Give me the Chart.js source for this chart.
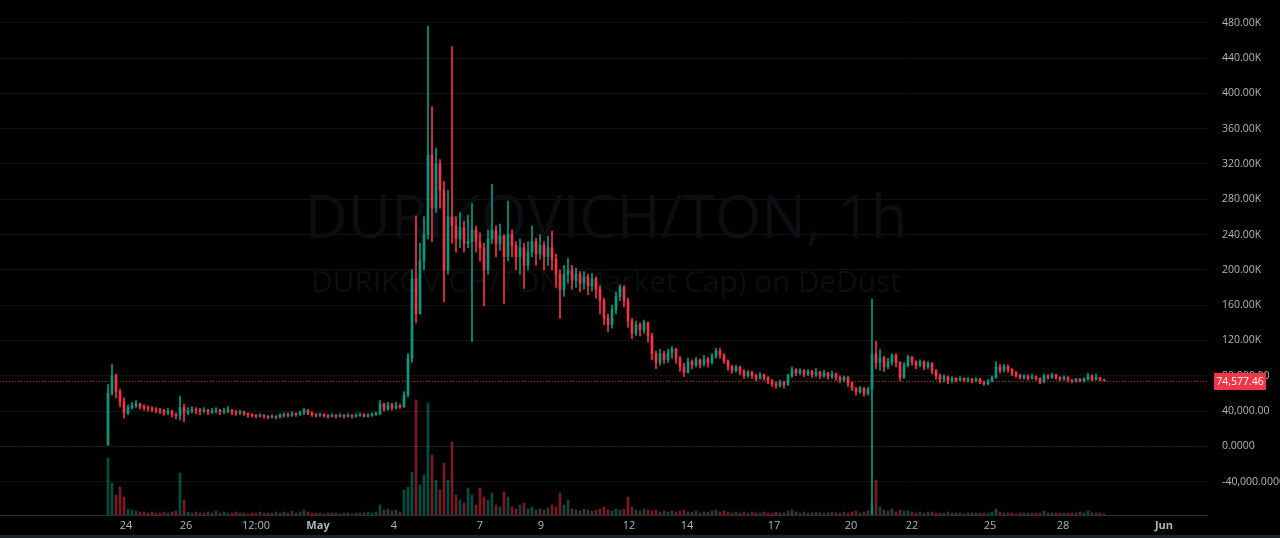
<!DOCTYPE html>
<html>
<head>
<meta charset="utf-8">
<script src="https://cdn.jsdelivr.net/npm/chart.js@4.4.1/dist/chart.umd.min.js"></script>
<style>
  html, body { margin: 0; padding: 0; background: #000; }
  canvas { display: block; }
</style>
</head>
<body>
<canvas id="chart" width="1280" height="538"></canvas>
<script>
// market cap in thousands, one candle per bar slot (TradingView axis is bar-indexed)
const firstOpen = 2;
const closes = [
  60,80,62,50,38,
  44,46,48,45,44,43,42,41,40,38,40,36,35,44,38,
  40,42,41,40,41,39,40,41,39,40,41,39,38,39,37,36,35,34,35,34,
  33,34,33,35,36,35,37,36,38,41,38,36,35,36,35,34,35,34,35,34,
  35,34,35,36,34,35,36,37,48,42,47,44,46,45,58,100,190,150,210,240,
  330,270,320,290,200,260,250,235,248,230,232,245,232,225,200,235,245,230,238,215,
  240,228,215,225,205,220,232,218,228,215,225,212,195,178,195,200,188,195,185,192,
  182,190,178,165,145,138,155,170,180,165,142,128,138,132,140,125,105,95,105,98,
  106,110,100,90,84,96,92,98,93,99,95,102,108,104,97,90,86,90,85,80,
  84,80,77,81,78,74,71,69,73,70,80,87,83,86,82,85,81,84,80,83,
  79,82,78,75,78,72,66,62,66,60,65,105,95,100,90,96,103,95,78,92,
  101,96,92,96,90,94,86,80,76,79,74,77,75,77,75,76,74,76,73,71,
  74,78,90,86,91,87,83,80,78,80,77,79,77,73,80,78,81,78,76,78,
  75,74,76,74,76,80,76,78,75.5,74.57746
];
const highs = [
  70,93,82,65,55,
  47,50,52,49,47,46,45,44,43,42,43,41,38,57,48,
  44,45,44,43,44,42,43,44,42,43,45,42,41,41,40,38,37,36,37,36,
  35,36,35,37,38,38,39,38,40,43,42,39,37,38,37,36,37,36,37,36,
  37,36,37,38,37,37,38,39,52,49,50,49,50,48,62,105,200,261,230,260,
  476,385,338,325,300,290,453,260,265,255,262,275,250,242,230,245,297,250,252,240,
  278,245,232,235,230,232,250,236,240,232,238,244,218,200,205,213,205,202,198,198,
  195,196,192,182,168,150,160,175,183,182,168,145,142,140,143,141,128,108,110,108,
  110,113,111,102,94,100,98,101,99,103,101,105,111,111,105,98,92,92,91,87,
  86,85,82,84,82,79,76,73,75,74,82,90,88,88,87,87,86,88,85,86,
  84,85,83,80,80,79,73,67,68,67,67,167,119,110,102,100,105,105,96,95,
  103,102,97,98,97,96,95,87,82,81,80,79,78,79,78,78,77,78,77,74,
  76,80,96,93,93,92,88,85,82,81,81,82,80,78,82,81,83,82,79,80,
  79,76,77,77,78,83,81,82,78,76
];
const lows = [
  1,58,55,45,32,
  36,42,44,42,41,40,39,38,37,35,36,33,31,30,28,
  36,38,37,36,38,36,37,38,36,37,38,36,35,36,35,33,33,32,33,32,
  31,32,31,32,33,33,34,34,35,36,36,34,33,34,33,32,33,32,33,32,
  33,32,33,34,33,33,34,35,36,40,41,41,42,43,44,56,95,140,150,200,
  235,232,265,270,164,195,230,220,225,220,225,119,220,210,159,195,230,215,222,162,
  210,215,200,195,179,200,215,205,212,200,205,200,180,145,170,185,178,180,175,178,
  172,176,168,150,138,130,134,150,165,158,135,122,125,125,128,118,98,88,92,94,
  95,100,94,85,79,83,88,90,89,91,90,93,100,100,94,86,83,84,81,77,
  78,77,74,76,75,71,68,66,67,66,69,78,80,81,79,80,78,79,77,78,
  76,77,75,72,73,68,63,58,60,57,58,-78,88,86,85,88,92,90,74,77,
  90,92,88,90,87,88,82,76,72,73,71,72,73,74,73,73,72,73,71,69,
  70,73,77,83,84,84,80,78,76,76,75,76,75,71,72,76,77,76,74,75,
  73,72,73,73,73,75,74,75,74,74
];
const volumes = [
  57,32,20,28,18,6,5,4,3,3,2,3,2,2,3,2,3,4,42,15,
  3,2,3,2,2,3,2,4,2,3,2,2,3,2,2,1,2,2,3,2,
  2,2,3,2,3,2,4,2,3,5,3,2,2,2,1,2,2,2,1,2,
  2,1,2,2,2,3,2,3,10,5,6,4,5,3,25,28,43,115,30,40,
  112,60,35,25,52,35,73,20,15,12,27,20,10,27,18,15,22,10,8,23,
  18,8,6,10,12,6,8,5,6,5,7,10,8,22,10,15,6,5,4,6,
  5,4,5,6,8,5,4,6,5,6,18,8,5,4,6,5,4,5,3,4,
  3,4,3,4,5,3,3,4,2,3,3,4,5,3,4,3,2,3,2,3,
  2,3,2,2,3,2,2,3,2,2,4,5,3,2,3,2,2,3,2,2,
  2,3,2,2,3,2,3,4,2,3,4,12,35,8,5,4,6,3,5,4,
  4,3,2,3,2,3,3,2,2,2,3,2,2,2,1,2,2,2,2,2,
  2,3,6,3,2,2,2,1,2,2,2,2,2,2,4,2,2,2,2,2,
  2,2,2,3,2,4,2,2,2,1
];
const xTickPos = [4.5, 19.5, 37, 52.5, 71.5, 93, 108.25, 130.25, 144.75, 166.5, 185.75, 201, 220.5, 238.75, 264];
const xTickLabels = ['24', '26', '12:00', 'May', '4', '7', '9', '12', '14', '17', '20', '22', '25', '28', 'Jun'];
const yTickVals = [-40, 0, 40, 80, 120, 160, 200, 240, 280, 320, 360, 400, 440, 480];
const yTickLabels = ['-40,000.0000', '0.0000', '40,000.00', '80,000.00', '120.00K', '160.00K', '200.00K',
  '240.00K', '280.00K', '320.00K', '360.00K', '400.00K', '440.00K', '480.00K'];
const titleText = 'DURIKOVICH/TON, 1h';
const subtitleText = 'DURIKOVICH/TON (Market Cap) on DeDust';

const UP = '#089981';
const DOWN = '#f23645';
const UP_VOL = 'rgba(8,153,129,0.5)';
const DOWN_VOL = 'rgba(242,54,69,0.5)';
const AXIS_TEXT = '#b2b5be';
const FONT = '"Open Sans", "Noto Sans", sans-serif';

const opens = closes.map((c, i) => (i ? closes[i - 1] : firstOpen));
const isUp = closes.map((c, i) => c >= opens[i]);
const lastClose = closes[closes.length - 1];

const overlay = {
  id: 'overlay',
  beforeDraw(chart) {
    const ctx = chart.ctx;
    ctx.save();
    ctx.fillStyle = '#000';
    ctx.fillRect(0, 0, chart.width, chart.height);
    ctx.restore();
  },
  beforeDatasetsDraw(chart) {
    const {ctx, chartArea: a, scales} = chart;
    ctx.save();
    // watermark
    ctx.fillStyle = '#0d0e11';
    ctx.textAlign = 'center';
    ctx.textBaseline = 'alphabetic';
    ctx.font = '60px ' + FONT;
    let s = 60 * 603 / ctx.measureText(titleText).width;
    ctx.font = s + 'px ' + FONT;
    ctx.fillText(titleText, 606, 238);
    ctx.font = '28px ' + FONT;
    s = 28 * 590 / ctx.measureText(subtitleText).width;
    ctx.font = s + 'px ' + FONT;
    ctx.fillText(subtitleText, 606, 292);
    // zero line
    const y0 = Math.round(scales.y.getPixelForValue(0)) + 0.5;
    ctx.strokeStyle = '#2a2a2a';
    ctx.lineWidth = 1;
    ctx.setLineDash([1, 2]);
    ctx.beginPath();
    ctx.moveTo(a.left, y0);
    ctx.lineTo(a.right, y0);
    ctx.stroke();
    // last price line
    const yp = Math.round(scales.y.getPixelForValue(lastClose)) + 0.5;
    ctx.strokeStyle = 'rgba(242,54,69,0.7)';
    ctx.beginPath();
    ctx.moveTo(a.left, yp);
    ctx.lineTo(a.right, yp);
    ctx.stroke();
    ctx.restore();
  },
  afterDraw(chart) {
    const {ctx, scales} = chart;
    const yp = Math.round(scales.y.getPixelForValue(lastClose));
    ctx.save();
    ctx.fillStyle = DOWN;
    ctx.fillRect(1214, yp - 8, 52, 17);
    ctx.fillStyle = '#fff';
    ctx.font = '10.5px ' + FONT;
    ctx.textAlign = 'center';
    ctx.textBaseline = 'middle';
    const label = (lastClose * 1000).toLocaleString('en-US', {minimumFractionDigits: 2, maximumFractionDigits: 2});
    ctx.fillText(label, 1240, yp + 1);
    ctx.fillStyle = '#1e222d';
    ctx.fillRect(0, chart.height - 3, chart.width, 3);
    ctx.restore();
  }
};

new Chart(document.getElementById('chart'), {
  type: 'bar',
  data: {
    datasets: [
      {
        label: 'body',
        data: closes.map((c, i) => ({x: i, y: [opens[i], c]})),
        backgroundColor: isUp.map(u => (u ? UP : DOWN)),
        barThickness: 2,
        minBarLength: 1,
        grouped: false,
        yAxisID: 'y',
      },
      {
        label: 'wick',
        data: highs.map((h, i) => ({x: i, y: [lows[i], h]})),
        backgroundColor: isUp.map(u => (u ? UP : DOWN)),
        barThickness: 1,
        grouped: false,
        yAxisID: 'y',
      },
      {
        label: 'volume',
        data: volumes.map((v, i) => ({x: i, y: v})),
        backgroundColor: isUp.map(u => (u ? UP_VOL : DOWN_VOL)),
        barThickness: 2,
        grouped: false,
        yAxisID: 'vol',
      },
    ],
  },
  options: {
    responsive: false,
    animation: false,
    devicePixelRatio: 1,
    layout: {padding: {left: 0, right: 0, top: 0, bottom: 3}},
    plugins: {
      legend: {display: false},
      tooltip: {enabled: false},
    },
    scales: {
      x: {
        type: 'linear',
        min: -27,
        max: 274.75,
        offset: false,
        grid: {display: false, drawTicks: false},
        border: {color: '#2a2e39'},
        ticks: {
          color: AXIS_TEXT,
          autoSkip: false,
          maxRotation: 0,
          padding: 4,
          font: ctx => ({
            family: FONT,
            size: 11,
            weight: ['May', 'Jun'].includes(xTickLabels[ctx.index]) ? 'bold' : 'normal',
          }),
          callback: (v, i) => xTickLabels[i],
        },
        afterBuildTicks: s => { s.ticks = xTickPos.map(v => ({value: v})); },
        afterFit: s => { s.height = 20; s.paddingLeft = 0; s.paddingRight = 0; },
      },
      y: {
        position: 'right',
        min: -77.8,
        max: 505.8,
        grid: {color: '#121212', drawTicks: false},
        border: {display: false},
        ticks: {
          color: AXIS_TEXT,
          padding: 15,
          font: {family: FONT, size: 10.5},
          callback: (v, i) => yTickLabels[i],
        },
        afterBuildTicks: s => { s.ticks = yTickVals.map(v => ({value: v})); },
        afterFit: s => { s.width = 73; s.paddingTop = 0; s.paddingBottom = 0; },
      },
      vol: {
        display: false,
        min: 0,
        max: 515,
      },
    },
  },
  plugins: [overlay],
});
</script>
</body>
</html>
